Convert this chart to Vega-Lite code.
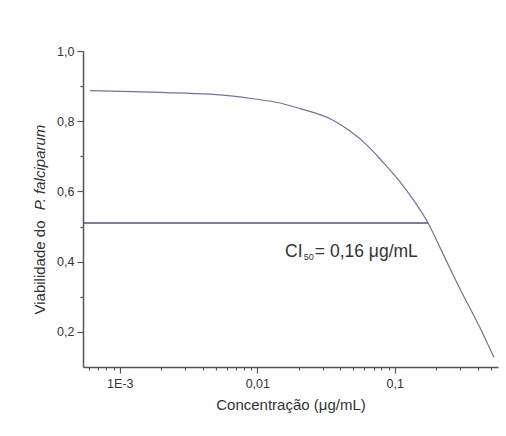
{
  "$schema": "https://vega.github.io/schema/vega-lite/v6.json",
  "width": 415,
  "height": 316,
  "autosize": {"type": "none"},
  "padding": {"left": 83, "top": 51, "right": 8, "bottom": 69},
  "background": "white",
  "config": {
    "view": {"stroke": null},
    "font": "Liberation Sans",
    "axis": {"grid": false, "domainColor": "#555", "tickColor": "#555", "domainWidth": 1.5, "tickWidth": 1.2, "labelColor": "#333", "titleColor": "#333", "labelFont": "Liberation Sans", "titleFont": "Liberation Sans", "labelFontSize": 12.5, "titleFontSize": 15, "titleFontWeight": "normal"}
  },
  "datasets": {
    "curve": [
      {"c": 0.000607, "v": 0.887},
      {"c": 0.001, "v": 0.885},
      {"c": 0.00196, "v": 0.882},
      {"c": 0.00453, "v": 0.877},
      {"c": 0.00931, "v": 0.864},
      {"c": 0.01463, "v": 0.852},
      {"c": 0.02046, "v": 0.836},
      {"c": 0.0356, "v": 0.803},
      {"c": 0.0472, "v": 0.772},
      {"c": 0.0628, "v": 0.732},
      {"c": 0.0821, "v": 0.683},
      {"c": 0.1091, "v": 0.627},
      {"c": 0.145, "v": 0.561},
      {"c": 0.1743, "v": 0.511},
      {"c": 0.2133, "v": 0.440},
      {"c": 0.298, "v": 0.322},
      {"c": 0.4166, "v": 0.212},
      {"c": 0.5265, "v": 0.127}
    ],
    "ic50": [{"c1": 0.00054, "c2": 0.1743, "v": 0.51}],
    "label": [
      {"c": 0.0159, "v": 0.414, "t": "CI", "size": "big"},
      {"c": 0.0218, "v": 0.4034, "t": "50", "size": "small"},
      {"c": 0.0262, "v": 0.414, "t": "= 0,16 μg/mL", "size": "big"}
    ]
  },
  "resolve": {"axis": {"x": "independent", "y": "independent"}},
  "layer": [
    {
      "data": {"name": "curve"},
      "mark": {"type": "line", "interpolate": "monotone", "color": "#6f7399", "strokeWidth": 1.2},
      "encoding": {
        "x": {"field": "c", "type": "quantitative", "scale": {"type": "log", "domain": [0.00054, 0.563], "nice": false},
          "axis": {"orient": "bottom", "values": [0.001, 0.01, 0.1], "labelExpr": "datum.value < 0.005 ? '1E-3' : (datum.value < 0.05 ? '0,01' : '0,1')", "tickSize": 6, "labelPadding": 4, "title": "Concentração (μg/mL)", "titlePadding": 8, "labelFlush": false}},
        "y": {"field": "v", "type": "quantitative", "scale": {"domain": [0.1, 1.0], "nice": false, "zero": false},
          "axis": {"orient": "left", "values": [0.2, 0.4, 0.6, 0.8, 1.0], "labelExpr": "replace(format(datum.value, '.1f'), '.', ',')", "tickSize": 6, "labelPadding": 3, "title": "Viabilidade do", "titleAngle": -90, "titleX": -39, "titleY": 216, "titleAlign": "center", "titleBaseline": "alphabetic"}}
      }
    },
    {
      "data": {"name": "ic50"},
      "mark": {"type": "rule", "color": "#4f5377", "strokeWidth": 1.4},
      "encoding": {
        "x": {"field": "c1", "type": "quantitative",
          "axis": {"orient": "bottom", "values": [0.0006, 0.0007, 0.0008, 0.0009, 0.002, 0.003, 0.004, 0.005, 0.006, 0.007, 0.008, 0.009, 0.02, 0.03, 0.04, 0.05, 0.06, 0.07, 0.08, 0.09, 0.2, 0.3, 0.4, 0.5], "labels": false, "domain": false, "tickSize": 3, "title": null}},
        "x2": {"field": "c2"},
        "y": {"field": "v", "type": "quantitative",
          "axis": {"orient": "left", "values": [0.3, 0.5, 0.7, 0.9], "labels": false, "domain": false, "tickSize": 3, "title": "P. falciparum", "titleFontStyle": "italic", "titleAngle": -90, "titleX": -39, "titleY": 116, "titleAlign": "center", "titleBaseline": "alphabetic"}}
      }
    },
    {
      "data": {"name": "label"},
      "mark": {"type": "text", "align": "left", "baseline": "alphabetic", "color": "#333", "font": "Liberation Sans"},
      "encoding": {
        "x": {"field": "c", "type": "quantitative", "axis": null},
        "y": {"field": "v", "type": "quantitative", "axis": null},
        "text": {"field": "t"},
        "size": {"field": "size", "type": "nominal", "scale": {"domain": ["big", "small"], "range": [17.5, 9]}, "legend": null}
      }
    }
  ]
}
